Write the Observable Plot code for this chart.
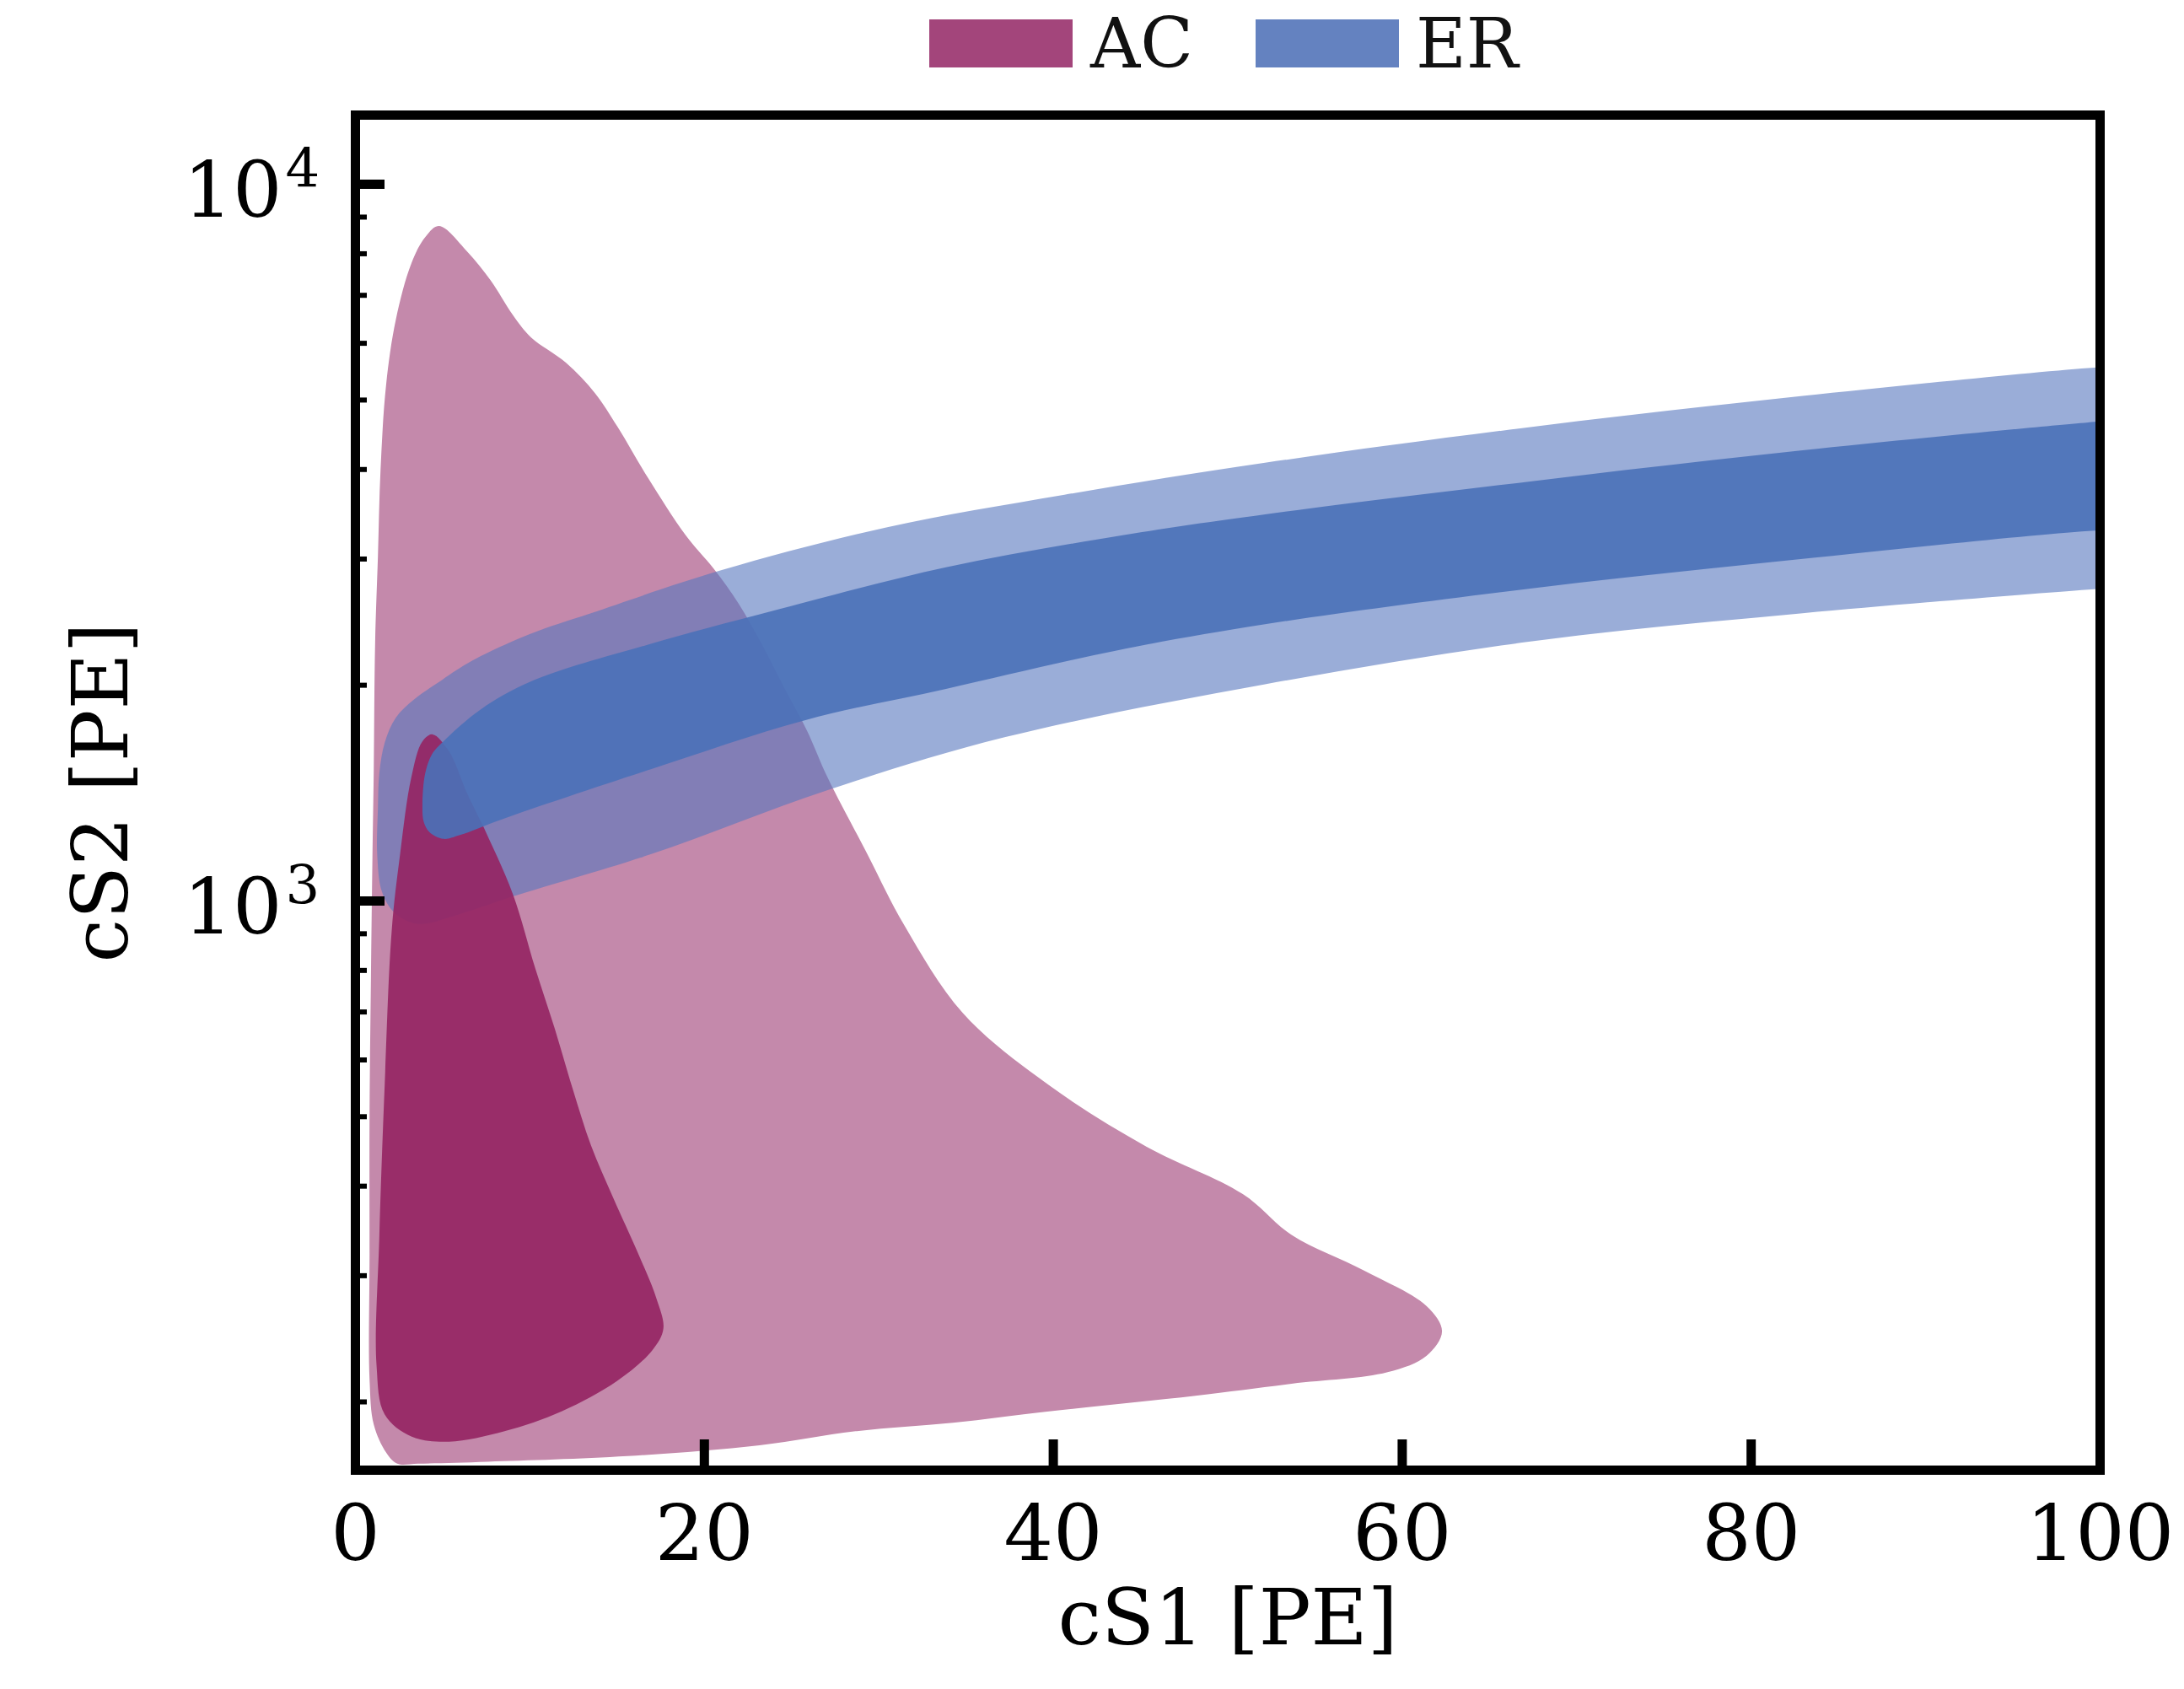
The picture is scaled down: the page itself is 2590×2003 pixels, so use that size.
<!DOCTYPE html>
<html><head><meta charset="utf-8">
<script src="https://cdn.jsdelivr.net/npm/d3@7"></script>
<script src="https://cdn.jsdelivr.net/npm/@observablehq/plot@0.6"></script>
<style>
html,body{margin:0;padding:0;background:#fff;}
#legend{position:relative;width:2590px;height:100px;font-family:"DejaVu Serif",serif;color:#111;}
.sw{position:absolute;top:23px;width:170px;height:57px;}
.lt{position:absolute;top:23px;height:57px;line-height:57px;font-size:82px;white-space:nowrap;}
</style></head><body>
<div id="legend"></div>
<div id="chart"></div>
<script>
// ---- data (cS1 [PE], cS2 [PE]) ----
const seriesNames = ["AC", "ER"];
const legendColors = ["#a3457b", "#6482c0"];

// AC 2-sigma (outer) contour
const acOuter = [[4.79,8745],[6.39,8066],[7.75,7342],[9.03,6566],[10.07,6113],[12.06,5640],[13.74,5110],[15.02,4590],[16.78,3890],[18.93,3238],[20.53,2909],[21.96,2601],[23.24,2295],[24.52,1997],[25.87,1731],[27.07,1486],[29.22,1178],[31.46,925],[34.81,698],[39.76,553],[45.35,454],[50.86,390],[53.66,342],[57.81,305],[61.40,272],[62.28,251],[61.40,232],[59.16,220],[53.66,212],[48.15,204],[39.76,194],[34.25,187],[28.67,182],[23.16,174],[15.58,168],[7.59,165],[3.60,164],[2.40,164],[1.76,170],[1.05,186],[0.81,215],[0.81,322],[0.81,503],[0.89,787],[0.97,1126],[1.05,1520],[1.13,2295],[1.29,3028],[1.44,3997],[1.76,5251],[2.32,6479],[3.20,7748],[4.00,8437]];
// AC 1-sigma (inner) contour
const acInner = [[4.42,1708],[5.36,1618],[6.39,1415],[7.51,1243],[9.03,1021],[10.31,805],[11.42,664],[12.46,546],[13.50,456],[14.78,385],[16.21,322],[17.25,279],[17.65,253],[17.01,236],[15.01,214],[11.82,194],[8.55,182],[5.36,176],[3.20,179],[1.68,192],[1.21,225],[1.37,340],[1.68,556],[2.08,909],[2.56,1162],[3.20,1486],[3.84,1670]];
// ER 2-sigma band (upper edge then lower edge)
const erOuter = [[1.29,1347],[1.37,1507],[1.68,1663],[2.32,1802],[3.36,1910],[4.96,2034],[6.71,2165],[9.99,2357],[13.50,2521],[21.00,2895],[30.43,3320],[40.64,3688],[52.14,4087],[67.54,4590],[82.95,5066],[99.31,5541],[102,5585],[106,5650],[106,2770],[102,2745],[99.31,2720],[82.95,2521],[67.54,2305],[52.14,2006],[37.21,1692],[27.07,1428],[16.93,1162],[9.11,1016],[5.99,959],[3.60,929],[2.24,963],[1.52,1030],[1.25,1160]];
// ER 1-sigma band
const erInner = [[3.84,1359],[4.00,1507],[4.40,1604],[5.04,1670],[7.19,1851],[10.07,2025],[16.93,2284],[23.72,2532],[33.85,2922],[43.97,3238],[52.14,3463],[67.54,3855],[82.95,4255],[99.31,4654],[102,4710],[106,4790],[106,3330],[102,3300],[99.31,3282],[82.95,3001],[67.54,2732],[52.14,2433],[43.51,2233],[33.85,1977],[25.71,1786],[16.93,1527],[8.39,1300],[5.99,1236],[5.04,1221],[4.24,1248],[3.92,1288]];

const xTickLabels = [0, 20, 40, 60, 80, 100];
const xTicks = [20, 40, 60, 80];
const yMajor = [1000, 10000];
const yMinor = [200,300,400,500,600,700,800,900,2000,3000,4000,5000,6000,7000,8000,9000];
const xLabel = "cS1 [PE]";
const yLabel = "cS2 [PE]";

// ---- legend ----
const leg = document.getElementById("legend");
const legPos = [[1102, 1293], [1489, 1679]];
seriesNames.forEach((n, i) => {
  const s = document.createElement("div");
  s.className = "sw"; s.style.left = legPos[i][0] + "px"; s.style.background = legendColors[i];
  leg.appendChild(s);
  const t = document.createElement("div");
  t.className = "lt"; t.style.left = legPos[i][1] + "px"; t.textContent = n;
  leg.appendChild(t);
});

// ---- chart ----
const W = 2590, H = 1903, mL = 421, mR = 100, mT = 36, mB = 260;
const plotW = W - mL - mR, plotH = H - mT - mB;
const px = d => d[0], py = d => d[1];

const chart = Plot.plot({
  width: W, height: H,
  marginLeft: mL, marginRight: mR, marginTop: mT, marginBottom: mB,
  style: {fontFamily: '"DejaVu Serif", serif', background: "white", color: "black"},
  x: {domain: [0, 100]},
  y: {type: "log", domain: [160.6, 12490]},
  marks: [
    Plot.line(acOuter, {x: px, y: py, curve: "catmull-rom-closed", fill: "#c489ab", stroke: "none", clip: true}),
    Plot.line(erOuter, {x: px, y: py, curve: "catmull-rom-closed", fill: "#5776be", fillOpacity: 0.6, stroke: "none", clip: true}),
    Plot.line(acInner, {x: px, y: py, curve: "catmull-rom-closed", fill: "#952462", fillOpacity: 0.9, stroke: "none", clip: true}),
    Plot.line(erInner, {x: px, y: py, curve: "catmull-rom-closed", fill: "#4a71b8", fillOpacity: 0.9, stroke: "none", clip: true}),
    Plot.tickX(xTicks, {x: d => d, insetTop: plotH - 36, stroke: "black", strokeWidth: 11}),
    Plot.tickY(yMajor, {y: d => d, insetRight: plotW - 35, stroke: "black", strokeWidth: 11}),
    Plot.tickY(yMinor, {y: d => d, insetRight: plotW - 14, stroke: "black", strokeWidth: 6}),
    Plot.axisX(xTickLabels, {tickSize: 0, tickPadding: 41, fontSize: 92, label: null, tickFormat: d => String(d)}),
    Plot.axisY(yMajor, {tickSize: 0, tickPadding: 87, fontSize: 92, label: null, tickFormat: () => "10", dy: 9}),
    Plot.text(yMajor, {y: d => d, text: d => String(Math.round(Math.log10(d))), frameAnchor: "left", textAnchor: "start", dx: -83, dy: -17, fontSize: 64}),
    Plot.text([xLabel], {text: d => d, frameAnchor: "bottom", dy: 206, fontSize: 92}),
    Plot.text([yLabel], {text: d => d, frameAnchor: "left", textAnchor: "middle", lineAnchor: "middle", rotate: -90, dx: -300, fontSize: 92}),
    Plot.frame({stroke: "black", strokeWidth: 11})
  ]
});
document.getElementById("chart").appendChild(chart);
</script>
</body></html>
